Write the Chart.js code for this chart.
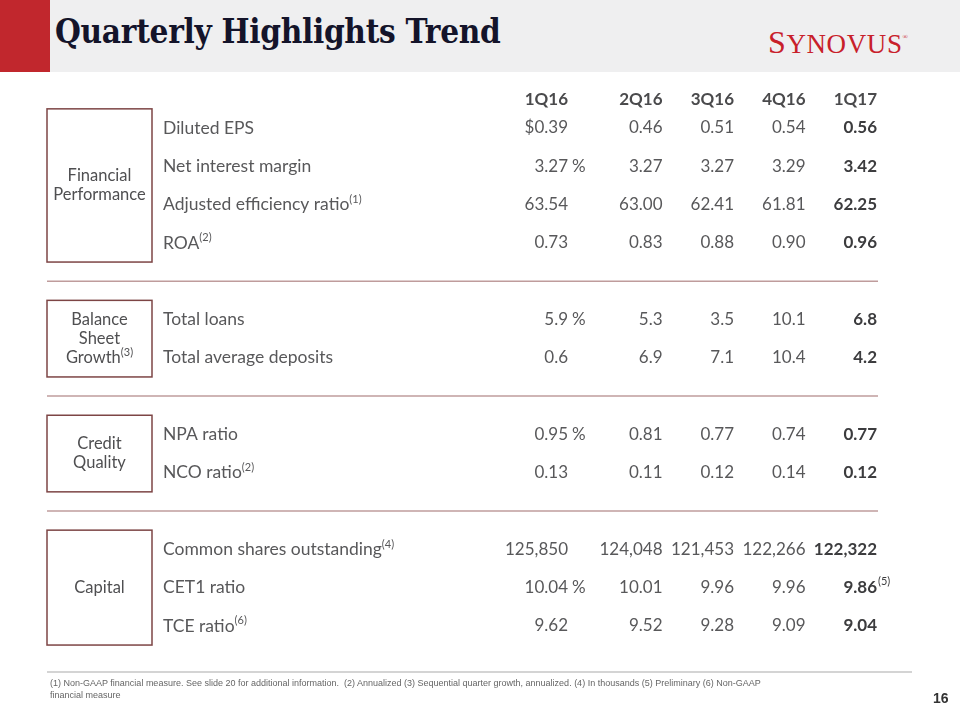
<!DOCTYPE html>
<html>
<head>
<meta charset="utf-8">
<script src="https://cdn.jsdelivr.net/npm/chart.js@4"></script>
<style>
  body { margin: 0; width: 960px; height: 720px; background: #fff; position: relative; overflow: hidden; font-family: Lato, "Noto Sans", sans-serif; }
  #topbar { position: absolute; left: 0; top: 0; width: 960px; height: 72px; background: #efeff0; }
  #redbox { position: absolute; left: 0; top: 0; width: 50px; height: 72px; background: #c1272d; }
  #title { position: absolute; left: 55px; top: 12px; font-family: "DejaVu Serif Condensed", "DejaVu Serif", serif; font-size: 33px; font-weight: bold; color: #14142a; letter-spacing: -0.3px; }
  #logo { position: absolute; left: 768px; top: 24px; font-family: "Liberation Serif", serif; font-size: 27px; color: #c8202a; letter-spacing: 0.6px; }
  #logo .big { font-size: 32px; }
  #logo sup { font-size: 7px; vertical-align: 14px; }
  #chart { position: absolute; left: 0; top: 0; }
  #footline { position: absolute; left: 47px; top: 671px; width: 865px; height: 0; border-top: 2px solid #d4d4d4; }
  #foot { position: absolute; left: 50px; top: 677px; width: 745px; font-size: 9px; line-height: 12px; color: #666; font-family: "Liberation Sans Narrow", "Liberation Sans", sans-serif; }
  #page { position: absolute; left: 933px; top: 690px; font-size: 14px; font-weight: bold; color: #333; font-family: "Liberation Sans Narrow", "Liberation Sans", sans-serif; }
</style>
</head>
<body>
<div id="topbar"></div>
<div id="redbox"></div>
<div id="title">Quarterly Highlights Trend</div>
<div id="logo"><span class="big">S</span>YNOVUS<sup>®</sup></div>
<canvas id="chart" width="960" height="720"></canvas>
<div id="footline"></div>
<div id="foot">(1) Non-GAAP financial measure. See slide 20 for additional information.&nbsp; (2) Annualized (3) Sequential quarter growth, annualized. (4) In thousands (5) Preliminary (6) Non-GAAP financial measure</div>
<div id="page">16</div>

<script>
// Quarters (columns)
const quarters = ["1Q16", "2Q16", "3Q16", "4Q16", "1Q17"];

// Group boxes on the left
const groupLabels = [["Financial", "Performance"], ["Balance", "Sheet", "Growth"], ["Credit", "Quality"], ["Capital"]];
const groupNotes = ["", "(3)", "", ""];

// Row labels
const rowLabels = ["Diluted EPS", "Net interest margin", "Adjusted efficiency ratio", "ROA",
  "Total loans", "Total average deposits",
  "NPA ratio", "NCO ratio",
  "Common shares outstanding", "CET1 ratio", "TCE ratio"];
const rowNotes = ["", "", "(1)", "(2)", "", "", "", "(2)", "(4)", "", "(6)"];
const rowGroup = [0, 0, 0, 0, 1, 1, 2, 2, 3, 3, 3];

// Values by row
const dilutedEps = [0.39, 0.46, 0.51, 0.54, 0.56];
const netInterestMargin = [3.27, 3.27, 3.27, 3.29, 3.42];
const adjEfficiencyRatio = [63.54, 63.00, 62.41, 61.81, 62.25];
const roa = [0.73, 0.83, 0.88, 0.90, 0.96];
const totalLoans = [5.9, 5.3, 3.5, 10.1, 6.8];
const totalAvgDeposits = [0.6, 6.9, 7.1, 10.4, 4.2];
const npaRatio = [0.95, 0.81, 0.77, 0.74, 0.77];
const ncoRatio = [0.13, 0.11, 0.12, 0.14, 0.12];
const sharesOutstanding = [125850, 124048, 121453, 122266, 122322];
const cet1Ratio = [10.04, 10.01, 9.96, 9.96, 9.86];
const tceRatio = [9.62, 9.52, 9.28, 9.09, 9.04];

const rowValues = [dilutedEps, netInterestMargin, adjEfficiencyRatio, roa, totalLoans, totalAvgDeposits,
  npaRatio, ncoRatio, sharesOutstanding, cet1Ratio, tceRatio];
const rowDecimals = [2, 2, 2, 2, 1, 1, 2, 2, 0, 2, 2];
const rowPrefix = ["$", "", "", "", "", "", "", "", "", "", ""];   // first column only
const rowUnit = ["", "%", "", "", "%", "", "%", "", "", "%", ""];  // first column only
const lastNotes = ["", "", "", "", "", "", "", "", "", "(5)", ""]; // latest quarter

// layout
const firstRowY = 128;
const rowStep = 38.3;
const unitGap = 23;
const boxLeft = 47, boxRight = 152, labelX = 163, lineRight = 878;
const textColor = "#58585a";
const font = "Lato, 'Noto Sans', sans-serif";

// slot of each row: one empty slot between groups
const rowSlots = rowGroup.map((g, i) => i + g);
const headerSlot = -0.75;

function fmt(v, d) {
  return v.toLocaleString("en-US", { minimumFractionDigits: d, maximumFractionDigits: d });
}

// text followed by a small raised note
function textWithNote(ctx, text, note, x, y, size, weight, align) {
  ctx.font = weight + " " + size + "px " + font;
  const w = ctx.measureText(text).width;
  ctx.font = "400 " + Math.round(size * 0.64) + "px " + font;
  const nw = note ? ctx.measureText(note).width : 0;
  let start = x;
  if (align === "center") start = x - (w + nw) / 2;
  ctx.textAlign = "left";
  ctx.font = weight + " " + size + "px " + font;
  ctx.fillText(text, start, y);
  if (note) {
    ctx.font = "400 " + Math.round(size * 0.64) + "px " + font;
    ctx.fillText(note, start + w, y - size * 0.3);
  }
}

const tablePlugin = {
  id: "table",
  afterDraw(chart) {
    const { ctx, scales: { x, y } } = chart;
    ctx.save();
    ctx.textBaseline = "middle";

    const colRight = (qi) => x.getPixelForValue(qi) - (qi === 0 ? unitGap : 0);

    // header row
    ctx.fillStyle = "#4a4a4c";
    ctx.font = "700 17px " + font;
    ctx.textAlign = "right";
    quarters.forEach((q, qi) => ctx.fillText(q, colRight(qi), y.getPixelForValue(headerSlot)));

    // rows
    rowLabels.forEach((label, r) => {
      const py = y.getPixelForValue(rowSlots[r]);
      ctx.fillStyle = textColor;
      textWithNote(ctx, label, rowNotes[r], labelX, py, 17.5, "400", "left");

      rowValues[r].forEach((v, qi) => {
        const last = qi === quarters.length - 1;
        let s = fmt(v, rowDecimals[r]);
        if (qi === 0) s = rowPrefix[r] + s;
        ctx.font = (last ? "700" : "400") + " 17px " + font;
        ctx.fillStyle = last ? "#3c3c3e" : textColor;
        ctx.textAlign = "right";
        const rx = colRight(qi);
        ctx.fillText(s, rx, py);
        ctx.textAlign = "left";
        if (qi === 0 && rowUnit[r]) {
          ctx.font = "400 17px " + font;
          ctx.fillText(rowUnit[r], rx + 4, py);
        }
        if (last && lastNotes[r]) {
          ctx.font = "400 11px " + font;
          ctx.fillText(lastNotes[r], rx + 1, py - 6);
        }
      });
    });

    // group boxes
    groupLabels.forEach((lines, g) => {
      const slots = rowSlots.filter((s, i) => rowGroup[i] === g);
      const top = y.getPixelForValue(Math.min(...slots) - 0.5);
      const bottom = y.getPixelForValue(Math.max(...slots) + 0.5);
      ctx.strokeStyle = "#7d4545";
      ctx.lineWidth = 1.5;
      ctx.strokeRect(boxLeft, top, boxRight - boxLeft, bottom - top);
      const cy = (top + bottom) / 2;
      const lh = 19;
      ctx.fillStyle = "#4f4f51";
      lines.forEach((t, li) => {
        const ly = cy + (li - (lines.length - 1) / 2) * lh;
        const note = li === lines.length - 1 ? groupNotes[g] : "";
        textWithNote(ctx, t, note, (boxLeft + boxRight) / 2, ly, 16.5, "400", "center");
      });

      // separator below the group
      if (g < groupLabels.length - 1) {
        const sy = y.getPixelForValue(Math.max(...slots) + 1);
        ctx.strokeStyle = "#bf9c9c";
        ctx.lineWidth = 1.5;
        ctx.beginPath();
        ctx.moveTo(boxLeft, sy);
        ctx.lineTo(lineRight, sy);
        ctx.stroke();
      }
    });
    ctx.restore();
  }
};

const yMin = -firstRowY / rowStep;
const yMax = yMin + 720 / rowStep;

new Chart(document.getElementById("chart"), {
  type: "scatter",
  data: {
    labels: quarters,
    datasets: [{ data: [], pointRadius: 0 }]
  },
  options: {
    responsive: false,
    animation: false,
    layout: { padding: { left: 591, right: 960 - 877, top: 0, bottom: 0 } },
    plugins: { legend: { display: false }, tooltip: { enabled: false } },
    scales: {
      x: { type: "category", display: false, offset: false },
      y: { type: "linear", display: false, reverse: true, min: yMin, max: yMax }
    }
  },
  plugins: [tablePlugin]
});
</script>
</body>
</html>
